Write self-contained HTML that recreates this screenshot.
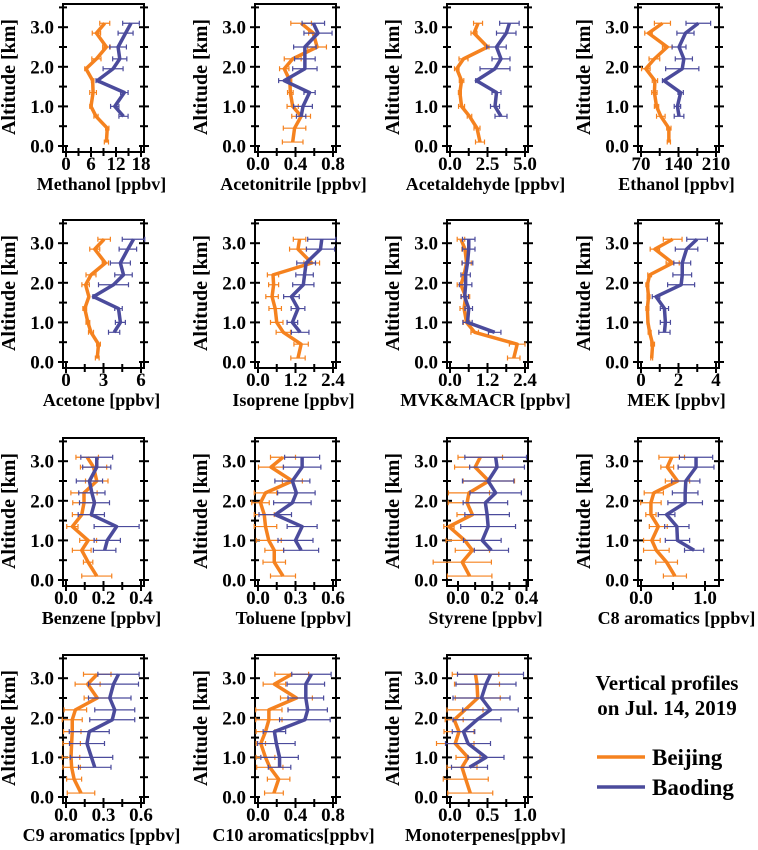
<!DOCTYPE html>
<html><head><meta charset="utf-8"><style>
html,body{margin:0;padding:0;background:#fff;}
svg, svg text{font-family:"Liberation Serif","Times New Roman",serif !important;font-weight:bold;}
</style></head><body>
<svg id="chart" width="758" height="845" viewBox="0 0 758 845" xmlns="http://www.w3.org/2000/svg" font-family="Liberation Serif, serif" font-weight="bold">
<g>
<text x="667" y="690" text-anchor="middle" font-size="21" font-family="Liberation Serif, serif">Vertical profiles</text>
<text x="667" y="715" text-anchor="middle" font-size="21" font-family="Liberation Serif, serif">on Jul. 14, 2019</text>
<line x1="597" y1="757" x2="645" y2="757" stroke="#f5821f" stroke-width="3.5"/>
<text x="652" y="765" font-size="23" font-family="Liberation Serif, serif">Beijing</text>
<line x1="597" y1="787" x2="645" y2="787" stroke="#4b4b9c" stroke-width="3.5"/>
<text x="652" y="795" font-size="23" font-family="Liberation Serif, serif">Baoding</text>
</g>
</svg>
<script>
const altBJ = [0.1,0.45,0.75,1.0,1.35,1.65,1.95,2.2,2.5,2.85,3.1];
const altBD = [0.75,1.0,1.35,1.65,1.95,2.2,2.5,2.85,3.1];
const yTicks = [0,1,2,3];
const yTickLabels = ["0.0","1.0","2.0","3.0"];

const methanolBJ = [9.7,9.9,7.2,6.0,6.5,6.4,4.8,7.3,9.7,7.3,9.3];
const methanolBJErr = [0.5,0.4,0.5,0.3,0.8,0.3,0.3,1.1,0.9,1.0,1.2];
const methanolBD = [13.8,11.7,14.0,7.5,11.3,12.9,12.5,14.3,15.6];
const methanolBDErr = [1.1,1.0,0.9,0.3,2.4,1.7,2.0,1.8,2.0];
const acetonitrileBJ = [0.37,0.39,0.46,0.37,0.345,0.34,0.28,0.37,0.63,0.59,0.46];
const acetonitrileBJErr = [0.11,0.12,0.1,0.06,0.03,0.02,0.05,0.09,0.1,0.05,0.11];
const acetonitrileBD = [0.46,0.48,0.55,0.28,0.5,0.5,0.5,0.64,0.59];
const acetonitrileBDErr = [0.05,0.1,0.06,0.06,0.13,0.11,0.12,0.15,0.12];
const acetaldehydeBJ = [2.0,1.8,1.3,0.77,0.66,0.77,0.45,0.9,2.5,1.6,1.87];
const acetaldehydeBJErr = [0.3,0.2,0.15,0.2,0.1,0.15,0.15,0.3,0.1,0.2,0.3];
const acetaldehydeBD = [3.4,3.0,3.1,1.76,3.0,3.4,3.1,3.75,3.96];
const acetaldehydeBDErr = [0.4,0.3,0.3,0.05,1.0,0.6,0.65,0.65,0.65];
const ethanolBJ = [122,122,107,99,95,96,79,95,119,84,110];
const ethanolBJErr = [3,4,8,4,5,5,8,10,9,7,15];
const ethanolBD = [141,138,144,113,147,150,141,153,177];
const ethanolBDErr = [9,6,5,3,31,16,13,16,23];
const acetoneBJ = [2.5,2.6,2.0,1.75,1.5,1.83,1.57,2.0,3.15,2.3,3.05];
const acetoneBJErr = [0.15,0.15,0.2,0.15,0.15,0.05,0.3,0.4,0.25,0.4,0.5];
const acetoneBD = [3.85,4.35,4.2,2.2,3.8,4.6,4.35,4.95,5.4];
const acetoneBDErr = [0.45,0.4,0.3,0.05,1.2,0.7,0.8,0.7,0.9];
const isopreneBJ = [1.28,1.38,0.81,0.6,0.55,0.45,0.5,0.48,1.72,1.28,1.33];
const isopreneBJErr = [0.23,0.23,0.23,0.2,0.2,0.2,0.16,0.18,0.25,0.27,0.2];
const isopreneBD = [1.35,1.1,1.28,1.07,1.45,1.49,1.54,2.0,2.04];
const isopreneBDErr = [0.28,0.17,0.22,0.25,0.34,0.28,0.3,0.45,0.45];
const mvkBJ = [2.04,2.15,0.79,0.53,0.45,0.5,0.35,0.45,0.53,0.48,0.35];
const mvkBJErr = [0.2,0.25,0.12,0.1,0.13,0.13,0.12,0.05,0.15,0.1,0.12];
const mvkBD = [1.43,0.56,0.6,0.47,0.5,0.5,0.56,0.6,0.6];
const mvkBDErr = [0.2,0.15,0.12,0.12,0.2,0.15,0.17,0.2,0.2];
const mekBJ = [0.57,0.62,0.46,0.37,0.34,0.4,0.34,0.46,1.69,0.74,1.69];
const mekBJErr = [0.05,0.1,0.08,0.05,0.08,0.08,0.08,0.1,0.35,0.25,0.5];
const mekBD = [1.25,1.3,1.25,0.8,2.14,2.2,2.2,2.43,2.99];
const mekBDErr = [0.3,0.27,0.22,0.2,0.72,0.5,0.45,0.6,0.55];
const benzeneBJ = [0.164,0.118,0.084,0.118,0.034,0.084,0.096,0.096,0.164,0.147,0.113];
const benzeneBJErr = [0.08,0.025,0.05,0.045,0.03,0.05,0.06,0.07,0.06,0.07,0.06];
const benzeneBD = [0.206,0.22,0.27,0.135,0.152,0.138,0.125,0.164,0.164];
const benzeneBDErr = [0.06,0.07,0.12,0.07,0.08,0.07,0.07,0.075,0.085];
const tolueneBJ = [0.2,0.13,0.13,0.086,0.06,0.05,0.02,0.06,0.275,0.104,0.2];
const tolueneBJErr = [0.1,0.09,0.075,0.1,0.09,0.08,0.07,0.09,0.08,0.1,0.1];
const tolueneBD = [0.345,0.3,0.353,0.138,0.275,0.307,0.275,0.353,0.353];
const tolueneBDErr = [0.14,0.14,0.12,0.13,0.15,0.15,0.14,0.15,0.14];
const styreneBJ = [0.068,0.025,0.084,0.04,-0.053,0.084,0.053,0.064,0.18,0.1,0.13];
const styreneBJErr = [0.13,0.17,0.1,0.11,0.03,0.09,0.11,0.12,0.15,0.12,0.13];
const styreneBD = [0.195,0.142,0.176,0.17,0.16,0.22,0.176,0.228,0.22];
const styreneBDErr = [0.1,0.11,0.16,0.13,0.13,0.15,0.15,0.16,0.18];
const c8BJ = [0.53,0.4,0.24,0.17,0.27,0.155,0.155,0.2,0.57,0.41,0.48];
const c8BJErr = [0.18,0.17,0.2,0.13,0.14,0.08,0.16,0.15,0.19,0.1,0.2];
const c8BD = [0.83,0.57,0.56,0.4,0.69,0.69,0.7,0.86,0.86];
const c8BDErr = [0.15,0.19,0.19,0.13,0.27,0.2,0.22,0.28,0.26];
const c9BJ = [0.12,0.065,0.045,0.04,0.045,0.05,0.05,0.075,0.25,0.173,0.25];
const c9BJErr = [0.11,0.06,0.07,0.07,0.07,0.07,0.08,0.09,0.105,0.1,0.11];
const c9BD = [0.23,0.204,0.168,0.186,0.37,0.39,0.35,0.38,0.42];
const c9BDErr = [0.13,0.17,0.14,0.16,0.18,0.16,0.17,0.2,0.165];
const c10BJ = [0.17,0.22,0.126,0.08,0.03,0.08,0.116,0.116,0.41,0.175,0.36];
const c10BJErr = [0.1,0.12,0.14,0.1,0.05,0.1,0.14,0.14,0.17,0.12,0.18];
const c10BD = [0.23,0.23,0.196,0.175,0.5,0.53,0.51,0.51,0.57];
const c10BDErr = [0.12,0.2,0.2,0.12,0.27,0.21,0.19,0.2,0.21];
const monoBJ = [0.27,0.21,0.16,0.24,0.07,0.12,0.056,0.2,0.37,0.36,0.34];
const monoBJErr = [0.3,0.3,0.2,0.16,0.25,0.2,0.12,0.24,0.3,0.3,0.31];
const monoBD = [0.26,0.48,0.24,0.18,0.36,0.54,0.42,0.48,0.54];
const monoBDErr = [0.24,0.24,0.3,0.15,0.32,0.37,0.38,0.4,0.44];

const methanolTicks = [0,6,12,18];
const acetonitrileTicks = [0,0.4,0.8];
const acetaldehydeTicks = [0,2.5,5];
const ethanolTicks = [70,140,210];
const acetoneTicks = [0,3,6];
const isopreneTicks = [0,1.2,2.4];
const mvkTicks = [0,1.2,2.4];
const mekTicks = [0,2,4];
const benzeneTicks = [0,0.2,0.4];
const tolueneTicks = [0,0.3,0.6];
const styreneTicks = [0,0.2,0.4];
const c8Ticks = [0,1];
const c9Ticks = [0,0.3,0.6];
const c10Ticks = [0,0.4,0.8];
const monoTicks = [0,0.5,1];

const panels = [
 {id:'methanol',title:'Methanol [ppbv]',ticks:methanolTicks,dec:0,bj:methanolBJ,bje:methanolBJErr,bd:methanolBD,bde:methanolBDErr},
 {id:'acetonitrile',title:'Acetonitrile [ppbv]',ticks:acetonitrileTicks,dec:1,bj:acetonitrileBJ,bje:acetonitrileBJErr,bd:acetonitrileBD,bde:acetonitrileBDErr},
 {id:'acetaldehyde',title:'Acetaldehyde [ppbv]',ticks:acetaldehydeTicks,dec:1,bj:acetaldehydeBJ,bje:acetaldehydeBJErr,bd:acetaldehydeBD,bde:acetaldehydeBDErr},
 {id:'ethanol',title:'Ethanol [ppbv]',ticks:ethanolTicks,dec:0,bj:ethanolBJ,bje:ethanolBJErr,bd:ethanolBD,bde:ethanolBDErr},
 {id:'acetone',title:'Acetone [ppbv]',ticks:acetoneTicks,dec:0,bj:acetoneBJ,bje:acetoneBJErr,bd:acetoneBD,bde:acetoneBDErr},
 {id:'isoprene',title:'Isoprene [ppbv]',ticks:isopreneTicks,dec:1,bj:isopreneBJ,bje:isopreneBJErr,bd:isopreneBD,bde:isopreneBDErr},
 {id:'mvk-macr',title:'MVK&MACR [ppbv]',ticks:mvkTicks,dec:1,bj:mvkBJ,bje:mvkBJErr,bd:mvkBD,bde:mvkBDErr},
 {id:'mek',title:'MEK [ppbv]',ticks:mekTicks,dec:0,bj:mekBJ,bje:mekBJErr,bd:mekBD,bde:mekBDErr},
 {id:'benzene',title:'Benzene [ppbv]',ticks:benzeneTicks,dec:1,bj:benzeneBJ,bje:benzeneBJErr,bd:benzeneBD,bde:benzeneBDErr},
 {id:'toluene',title:'Toluene [ppbv]',ticks:tolueneTicks,dec:1,bj:tolueneBJ,bje:tolueneBJErr,bd:tolueneBD,bde:tolueneBDErr},
 {id:'styrene',title:'Styrene [ppbv]',ticks:styreneTicks,dec:1,bj:styreneBJ,bje:styreneBJErr,bd:styreneBD,bde:styreneBDErr,p0:11,p1:1.5},
 {id:'c8-aromatics',title:'C8 aromatics [ppbv]',ticks:c8Ticks,dec:1,bj:c8BJ,bje:c8BJErr,bd:c8BD,bde:c8BDErr,p0:3,p1:14},
 {id:'c9-aromatics',title:'C9 aromatics [ppbv]',ticks:c9Ticks,dec:1,bj:c9BJ,bje:c9BJErr,bd:c9BD,bde:c9BDErr},
 {id:'c10-aromatics',title:'C10 aromatics[ppbv]',ticks:c10Ticks,dec:1,bj:c10BJ,bje:c10BJErr,bd:c10BD,bde:c10BDErr},
 {id:'monoterpenes',title:'Monoterpenes[ppbv]',ticks:monoTicks,dec:1,bj:monoBJ,bje:monoBJErr,bd:monoBD,bde:monoBDErr}
];

const NS='http://www.w3.org/2000/svg';
const svg=document.getElementById('chart');
const colLeft=[63,255,447,638], rowY0=[146,362,580,797];
const W=81, KM=39.6, ORANGE='#f5821f', BLUE='#4b4b9c', FF='Liberation Serif, serif';
function mk(tag,attrs,parent){const e=document.createElementNS(NS,tag);for(const k in attrs)e.setAttribute(k,attrs[k]);parent.appendChild(e);return e;}

panels.forEach((p,i)=>{
  const L=colLeft[i%4], y0=rowY0[Math.floor(i/4)], R=L+W, T=y0-142, B=y0+6;
  const p0=p.p0===undefined?3:p.p0, p1=p.p1===undefined?3:p.p1;
  const t0=p.ticks[0], tN=p.ticks[p.ticks.length-1];
  const xs=v=>L+p0+(v-t0)/(tN-t0)*(W-p0-p1);
  const ys=a=>y0-a*KM;
  const g=mk('g',{},svg);
  
  
  const box=mk('rect',{x:L,y:T,width:W,height:B-T,fill:'none',stroke:'#000','stroke-width':2},g);
  
  
  for(let a=0;a<=3.5;a+=0.5){
    const maj=Math.abs(a-Math.round(a))<1e-9, len=maj?5:4;
    [[L-len,L+len],[R-len,R+len]].forEach(([a1,a2])=>{
      const tk=mk('line',{x1:a1,x2:a2,y1:ys(a),y2:ys(a),stroke:'#000','stroke-width':2},g);
      
      
    });
  }
  yTicks.forEach((a,k)=>{
    const t=mk('text',{x:L-9,y:ys(a)+6.5,'text-anchor':'end','font-size':19,'font-family':FF,'font-weight':'bold'},g);
    t.textContent=yTickLabels[k];
    
    
  });
  const yl=mk('text',{x:0,y:0,'text-anchor':'middle','font-size':20,'font-family':FF,'font-weight':'bold',transform:`translate(${L-48},${y0-69}) rotate(-90)`},g);
  yl.textContent='Altitude [km]';
  
  
  const step=p.ticks.length>1?(p.ticks[1]-p.ticks[0]):1;
  for(let v=t0;xs(v)<=R-1;v+=step/2){
    const maj=p.ticks.some(t=>Math.abs(t-v)<1e-9), len=maj?5:4;
    const tk=mk('line',{x1:xs(v),x2:xs(v),y1:B-len,y2:B+len,stroke:'#000','stroke-width':2},g);
    
    
  }
  p.ticks.forEach(v=>{
    const t=mk('text',{x:xs(v),y:y0+24,'text-anchor':'middle','font-size':19,'font-family':FF,'font-weight':'bold'},g);
    t.textContent=v.toFixed(p.dec);
    
    
  });
  const xt=mk('text',{x:L+W/2-2,y:y0+44,'text-anchor':'middle','font-size':18,'font-family':FF,'font-weight':'bold'},g);
  xt.textContent=p.title;
  
  
  [[p.bj,p.bje,altBJ,ORANGE,'beijing'],[p.bd,p.bde,altBD,BLUE,'baoding']].forEach(([vals,errs,alts,col,nm])=>{
    const sg=mk('g',{},g);
    
    
    vals.forEach((v,k)=>{
      const y=ys(alts[k]), a=xs(v-errs[k]), b=xs(v+errs[k]);
      const eb=mk('path',{d:`M${a},${y}H${b}M${a},${y-2.5}V${y+2.5}M${b},${y-2.5}V${y+2.5}`,stroke:col,'stroke-width':1.2,fill:'none'},sg);
      
      
    });
    const pl=mk('polyline',{points:vals.map((v,k)=>xs(v)+','+ys(alts[k])).join(' '),fill:'none',stroke:col,'stroke-width':3.5,'stroke-linejoin':'round'},sg);
    
    
  });
});
</script>
</body></html>
